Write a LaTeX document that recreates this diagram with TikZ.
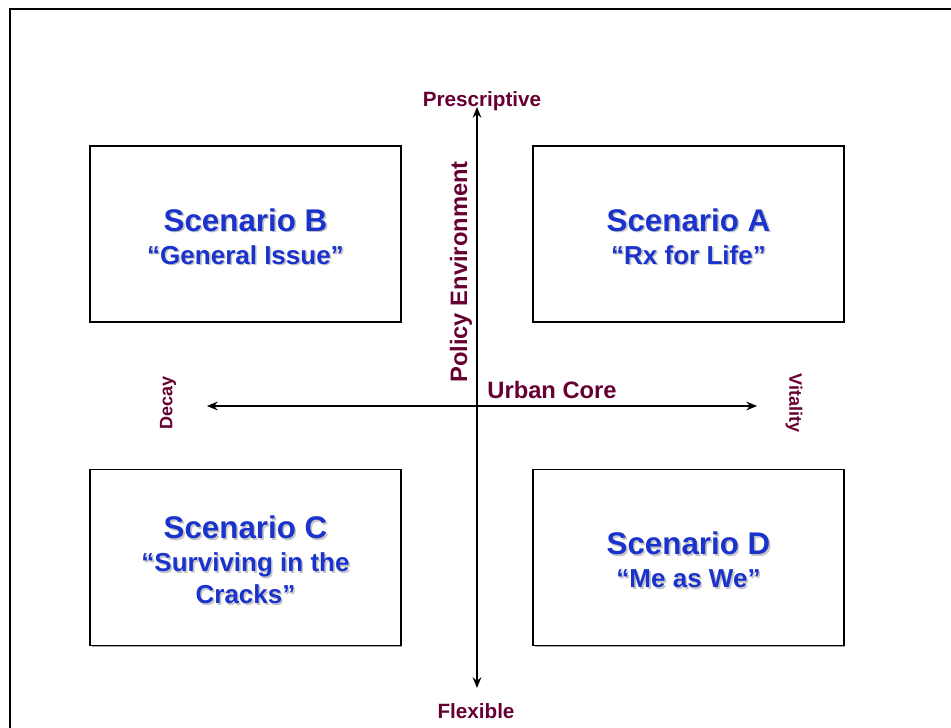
\documentclass[tikz,border=0pt]{standalone}
\usepackage{fontspec}
\setmainfont{Liberation Sans}
\usetikzlibrary{arrows.meta,shadows}

\definecolor{axismaroon}{HTML}{660033}
\definecolor{scenblue}{HTML}{1A33CC}

\begin{document}
\begin{tikzpicture}[x=0.75pt, y=-0.75pt,
    frame/.style={line width=2.2pt, black},
    scenbox/.style={draw=black, line width=1.3pt, fill=white, minimum width=233pt, minimum height=132pt, inner sep=0pt,
      drop shadow={shadow xshift=1pt, shadow yshift=-1pt, fill=gray!70, opacity=1}},
    scentext/.style={align=center, text=scenblue, font=\bfseries\fontsize{19.5}{24}\selectfont},
    txtshadow/.style={text=gray!45},
    axis/.style={line width=1.5pt, black, {Stealth[length=8pt,width=6.5pt]}-{Stealth[length=8pt,width=6.5pt]}},
    pole/.style={text=axismaroon, font=\bfseries\fontsize{15.5}{18}\selectfont},
    sidepole/.style={text=axismaroon, font=\bfseries\fontsize{13.5}{16}\selectfont},
    axistitle/.style={text=axismaroon, font=\bfseries\fontsize{17.8}{21}\selectfont}]
  \useasboundingbox (0,0) rectangle (951,728);
  \clip (0,0) rectangle (951,728);
  % \scenario{name}{position}{lines}: box plus shadowed text
  \newcommand{\scenario}[3]{%
    \node[scenbox] (box#1) at (#2) {};
    \node[scentext, txtshadow] at ([shift={(1.6,4.1)}]box#1.center) {#3};
    \node[scentext] (txt#1) at ([shift={(0,2.5)}]box#1.center) {#3};}
  \newcommand{\scentitle}[1]{{\fontsize{23.5}{28}\selectfont #1}}
  % ---------------- outer frame ----------------
  \draw[frame] (10,9) rectangle (980,760);
  % ---------------- the four scenarios ----------------
  \scenario{B}{245.5,234}{\scentitle{Scenario B}\\[1pt]“General Issue”}
  \scenario{A}{688.5,234}{\scentitle{Scenario A}\\[1pt]“Rx for Life”}
  \scenario{C}{245.5,557.5}{\scentitle{Scenario C}\\[1pt]“Surviving in the\\Cracks”}
  \scenario{D}{688.5,557.5}{\scentitle{Scenario D}\\[1pt]“Me as We”}
  % ---------------- axes ----------------
  \coordinate (top) at (477,107);
  \coordinate (bottom) at (477,688);
  \coordinate (left) at (207,406);
  \coordinate (right) at (757,406);
  \draw[axis] (bottom) -- (top);
  \draw[axis] (left) -- (right);
  \node[pole] (prescriptive) at (482,101) {Prescriptive};
  \node[pole] (flexible) at (476,711) {Flexible};
  \node[sidepole, rotate=90] (decay) at (168,403) {Decay};
  \node[sidepole, rotate=-90] (vitality) at (794,403) {Vitality};
  \node[axistitle, rotate=90] (policy) at (461,272) {Policy Environment};
  \node[axistitle] (urban) at (552,390) {Urban Core};
\end{tikzpicture}
\end{document}
